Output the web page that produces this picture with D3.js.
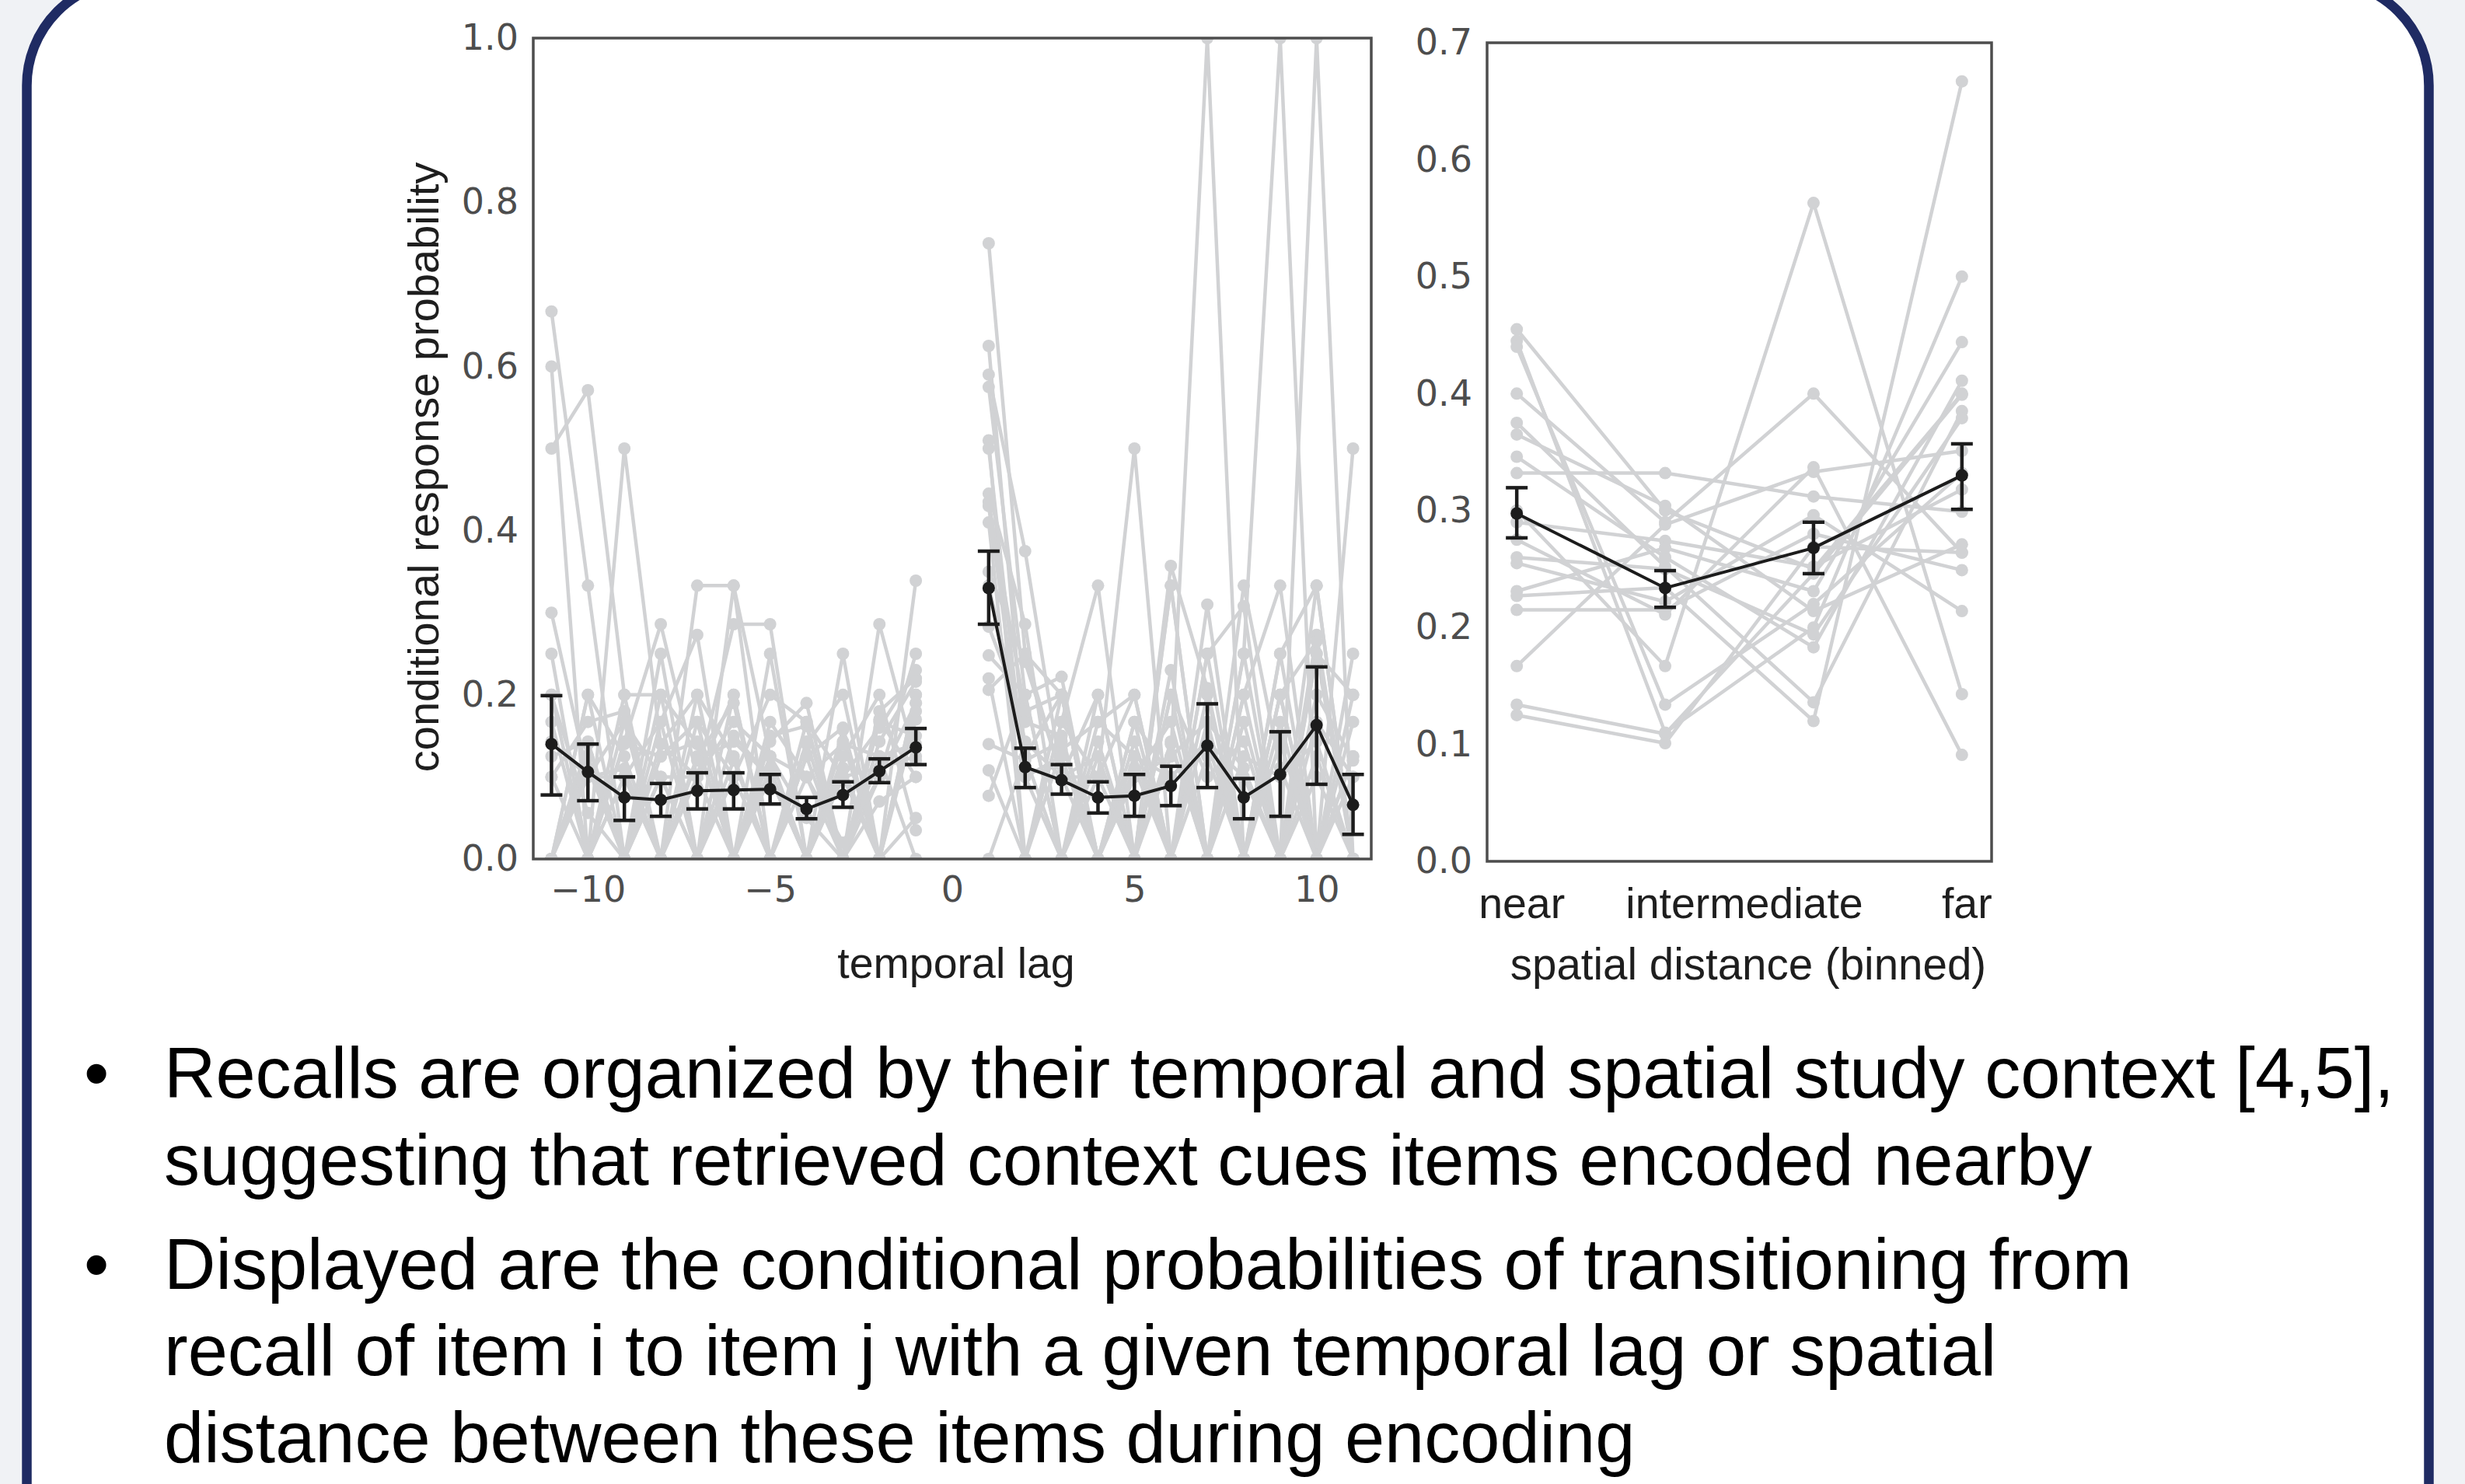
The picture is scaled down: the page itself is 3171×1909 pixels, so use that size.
<!DOCTYPE html>
<html>
<head>
<meta charset="utf-8">
<script src="https://cdn.jsdelivr.net/npm/d3@7"></script>
<style>
  body { margin: 0; background: #f0f2f5; }
  svg { display: block; }
</style>
</head>
<body>
<svg id="chart" width="3171" height="1909"></svg>
<script>
// ---- data ----
var lags = [-11, -10, -9, -8, -7, -6, -5, -4, -3, -2, -1, 1, 2, 3, 4, 5, 6, 7, 8, 9, 10, 11];
var lagMean  = [0.140, 0.106, 0.075, 0.072, 0.083, 0.084, 0.085, 0.061, 0.078, 0.107, 0.136,
                0.330, 0.112, 0.096, 0.075, 0.077, 0.089, 0.138, 0.075, 0.103, 0.163, 0.066];
var lagErrLo = [0.078, 0.071, 0.047, 0.052, 0.061, 0.061, 0.067, 0.049, 0.063, 0.093, 0.115,
                0.286, 0.087, 0.079, 0.056, 0.052, 0.065, 0.087, 0.049, 0.052, 0.091, 0.030];
var lagErrHi = [0.199, 0.140, 0.100, 0.092, 0.105, 0.105, 0.103, 0.075, 0.094, 0.122, 0.159,
                0.375, 0.135, 0.115, 0.094, 0.103, 0.113, 0.189, 0.098, 0.155, 0.234, 0.103];
// one row per subject, same order as lags
var lagSubjects = [
  [0.667, 0.333, 0, 0.25, 0, 0.333, 0, 0.167, 0, 0.1, 0.25,      0.75, 0.25, 0.2, 0, 0.167, 0, 0.25, 0, 0.2, 0, 0.2],
  [0.6, 0, 0.5, 0.14, 0.2, 0, 0.25, 0, 0.143, 0, 0.2,             0.625, 0.125, 0, 0.2, 0, 0.333, 0, 0.2, 0, 0.333, 0],
  [0.5, 0.571, 0.2, 0, 0.333, 0.333, 0.125, 0.1, 0, 0.18, 0.22,   0.59, 0.375, 0.1, 0.1, 0.5, 0, 0, 0.333, 0.111, 0, 0.25],
  [0.167, 0, 0.143, 0.286, 0.1, 0.286, 0.286, 0, 0.25, 0, 0.19,   0.575, 0.2, 0.222, 0, 0, 0.357, 0.208, 0, 0, 0.273, 0],
  [0, 0.2, 0, 0.167, 0.273, 0, 0.143, 0.19, 0, 0.286, 0.12,       0.51, 0, 0.167, 0.333, 0, 0.125, 1.0, 0, 0.25, 0, 0.125],
  [0.1, 0.167, 0.18, 0, 0.125, 0.19, 0, 0.125, 0.16, 0, 0.339,    0.445, 0.286, 0, 0.1, 0.2, 0, 0.25, 0.308, 0, 0.25, 0],
  [0, 0.14, 0, 0.2, 0, 0.15, 0.1, 0, 0.1, 0.16, 0.23,             0.435, 0.18, 0.2, 0, 0, 0.23, 0, 0.25, 1.0, 0, 0.5],
  [0.2, 0, 0.1, 0, 0.167, 0, 0.15, 0.162, 0, 0.07, 0.1,           0.41, 0, 0.133, 0.167, 0.2, 0, 0.31, 0, 0, 1.0, 0],
  [0.143, 0.1, 0.167, 0, 0, 0.2, 0, 0.14, 0.2, 0, 0.05,           0.35, 0.24, 0.1, 0.125, 0, 0.2, 0, 0.2, 0.333, 0, 0.125],
  [0, 0, 0.14, 0.125, 0.143, 0, 0.125, 0, 0, 0.143, 0.216,        0.283, 0.167, 0.15, 0, 0.167, 0.1, 0.143, 0, 0.25, 0.333, 0],
  [0.125, 0.143, 0, 0.1, 0, 0.1, 0.2, 0.167, 0.1, 0, 0.2,         0.248, 0.2, 0, 0.143, 0, 0.333, 0, 0.167, 0, 0.25, 0.2],
  [0, 0.2, 0.125, 0, 0.2, 0.125, 0, 0, 0.125, 0.2, 0.035,         0.22, 0, 0.2, 0, 0.143, 0, 0.2, 0, 0.2, 0.265, 0],
  [0.25, 0, 0.2, 0.2, 0.14, 0, 0.167, 0.1, 0.14, 0.125, 0.14,     0.206, 0.25, 0.1, 0.2, 0, 0.14, 0, 0.25, 0, 0.2, 0.12],
  [0, 0.111, 0, 0.14, 0.1, 0.167, 0.125, 0.05, 0, 0.17, 0.1,      0.14, 0.12, 0.143, 0, 0.1, 0.125, 0.167, 0, 0.2, 0, 0],
  [0.3, 0.1, 0.11, 0, 0.1, 0.2, 0, 0.1, 0.02, 0.1, 0.19,          0.108, 0, 0.167, 0.1, 0, 0.2, 0.1, 0.143, 0, 0.125, 0],
  [0, 0, 0.167, 0.1, 0, 0, 0.1, 0, 0.157, 0, 0.17,                0.077, 0.2, 0, 0.167, 0.125, 0, 0.125, 0, 0.167, 0, 0.167],
  [0.2, 0.056, 0, 0.125, 0.167, 0.1, 0, 0.125, 0, 0.167, 0.15,    0, 0.125, 0.2, 0, 0.1, 0.167, 0, 0.125, 0.1, 0.143, 0],
  [0, 0.1, 0.1, 0, 0.12, 0.143, 0.1, 0, 0.111, 0, 0.18,           0.333, 0.143, 0.1, 0, 0.125, 0.1, 0.143, 0.1, 0, 0.167, 0.1],
  [0.1, 0, 0.1, 0.167, 0, 0.12, 0, 0.143, 0, 0.125, 0,            0.43, 0.1, 0, 0.125, 0, 0.143, 0, 0, 0.143, 0, 0.1],
  [0, 0.125, 0, 0.1, 0.1, 0, 0.11, 0, 0.1, 0.111, 0.125,          0.5, 0.1, 0.125, 0, 0.111, 0, 0.167, 0.111, 0, 0.1, 0]
];

var distBins = [0, 1, 2, 3];
var distTicks = [0, 1.5, 3];
var distTickLabels = ['near', 'intermediate', 'far'];
var distMean  = [0.2975, 0.2337, 0.268, 0.330];
var distErrLo = [0.2766, 0.2172, 0.246, 0.301];
var distErrHi = [0.3195, 0.2486, 0.290, 0.357];
var distSubjects = [
  [0.455, 0.300, 0.250, 0.400],
  [0.445, 0.110, 0.200, 0.500],
  [0.440, 0.134, 0.220, 0.332],
  [0.400, 0.290, 0.400, 0.264],
  [0.375, 0.252, 0.136, 0.385],
  [0.365, 0.304, 0.214, 0.271],
  [0.346, 0.260, 0.183, 0.411],
  [0.332, 0.332, 0.312, 0.299],
  [0.300, 0.167, 0.563, 0.143],
  [0.290, 0.274, 0.252, 0.318],
  [0.275, 0.211, 0.337, 0.091],
  [0.260, 0.250, 0.194, 0.379],
  [0.255, 0.222, 0.296, 0.214],
  [0.231, 0.268, 0.231, 0.444],
  [0.227, 0.234, 0.120, 0.667],
  [0.215, 0.215, 0.280, 0.249],
  [0.167, 0.288, 0.333, 0.351],
  [0.134, 0.109, 0.246, 0.399],
  [0.125, 0.101, 0.269, 0.264]
];

var bullets = [
  ['Recalls are organized by their temporal and spatial study context [4,5],',
   'suggesting that retrieved context cues items encoded nearby'],
  ['Displayed are the conditional probabilities of transitioning from',
   'recall of item i to item j with a given temporal lag or spatial',
   'distance between these items during encoding']
];

// ---- styles ----
var grey = '#d1d2d4';
var dark = '#1c1c1c';
var tickFont = 'DejaVu Sans';
var labelFont = 'Liberation Sans, Arial, sans-serif';

var svg = d3.select('#chart');

// rounded panel
svg.append('rect')
  .attr('x', 34.5).attr('y', -25)
  .attr('width', 3090).attr('height', 2200)
  .attr('rx', 135).attr('ry', 135)
  .attr('fill', '#ffffff')
  .attr('stroke', '#1f2b63')
  .attr('stroke-width', 12.5);

var defs = svg.append('defs');

function drawPanel(cfg) {
  var x = d3.scaleLinear().domain(cfg.xDomain).range([cfg.left, cfg.right]);
  var y = d3.scaleLinear().domain(cfg.yDomain).range([cfg.bottom, cfg.top]);

  defs.append('clipPath').attr('id', cfg.id + '-clip')
    .append('rect')
    .attr('x', cfg.left).attr('y', cfg.top)
    .attr('width', cfg.right - cfg.left).attr('height', cfg.bottom - cfg.top);

  var g = svg.append('g');
  var plot = g.append('g').attr('clip-path', 'url(#' + cfg.id + '-clip)');

  // split a series where it jumps over a gap (lag 0)
  var segments = function(vals) {
    var segs = [[]];
    cfg.xs.forEach(function(xv, i) {
      if (i > 0 && xv - cfg.xs[i - 1] > 1) segs.push([]);
      segs[segs.length - 1].push([xv, vals[i]]);
    });
    return segs;
  };

  var line = d3.line()
    .x(function(d) { return x(d[0]); })
    .y(function(d) { return y(d[1]); });

  // individual subjects
  cfg.subjects.forEach(function(row) {
    segments(row).forEach(function(seg) {
      plot.append('path')
        .attr('d', line(seg))
        .attr('fill', 'none')
        .attr('stroke', grey)
        .attr('stroke-width', 4.5)
        .attr('stroke-linejoin', 'round');
    });
  });
  cfg.subjects.forEach(function(row) {
    plot.selectAll(null)
      .data(row)
      .enter()
      .append('circle')
      .attr('cx', function(d, i) { return x(cfg.xs[i]); })
      .attr('cy', function(d) { return y(d); })
      .attr('r', 8)
      .attr('fill', grey);
  });

  // mean line
  segments(cfg.mean).forEach(function(seg) {
    plot.append('path')
      .attr('d', line(seg))
      .attr('fill', 'none')
      .attr('stroke', dark)
      .attr('stroke-width', 4);
  });

  // error bars
  var cap = 14;
  cfg.xs.forEach(function(xv, i) {
    var cx = x(xv);
    plot.append('line')
      .attr('x1', cx).attr('x2', cx)
      .attr('y1', y(cfg.lo[i])).attr('y2', y(cfg.hi[i]))
      .attr('stroke', dark).attr('stroke-width', 4.5);
    [cfg.lo[i], cfg.hi[i]].forEach(function(v) {
      plot.append('line')
        .attr('x1', cx - cap).attr('x2', cx + cap)
        .attr('y1', y(v)).attr('y2', y(v))
        .attr('stroke', dark).attr('stroke-width', 4.5);
    });
  });

  plot.selectAll(null)
    .data(cfg.mean)
    .enter()
    .append('circle')
    .attr('cx', function(d, i) { return x(cfg.xs[i]); })
    .attr('cy', function(d) { return y(d); })
    .attr('r', 8)
    .attr('fill', dark);

  // axes
  var ya = g.append('g')
    .attr('transform', 'translate(' + cfg.left + ',0)')
    .call(d3.axisLeft(y).tickValues(cfg.yTicks).tickSize(0).tickPadding(19)
      .tickFormat(d3.format('.1f')));
  ya.select('.domain').remove();
  ya.selectAll('text')
    .attr('font-family', tickFont).attr('font-size', 46).attr('fill', '#4d4d4d');

  var xa = g.append('g')
    .attr('transform', 'translate(0,' + cfg.bottom + ')')
    .call(d3.axisBottom(x).tickValues(cfg.xTicks).tickSize(0).tickPadding(cfg.xPad)
      .tickFormat(cfg.xFormat));
  xa.select('.domain').remove();
  xa.selectAll('text')
    .attr('font-family', cfg.xFont).attr('font-size', cfg.xFontSize).attr('fill', cfg.xColor)
    .attr('dx', cfg.xShift || 0);

  // frame
  g.append('rect')
    .attr('x', cfg.left).attr('y', cfg.top)
    .attr('width', cfg.right - cfg.left).attr('height', cfg.bottom - cfg.top)
    .attr('fill', 'none')
    .attr('stroke', '#4d4d4d')
    .attr('stroke-width', 3.5);

  return { x: x, y: y };
}

var left = drawPanel({
  id: 'lag',
  left: 686, right: 1764, top: 49, bottom: 1105,
  xDomain: [-11.5, 11.5], yDomain: [0, 1],
  xs: lags, subjects: lagSubjects, mean: lagMean, lo: lagErrLo, hi: lagErrHi,
  yTicks: [0, 0.2, 0.4, 0.6, 0.8, 1.0],
  xTicks: [-10, -5, 0, 5, 10], xFormat: d3.format('d'),
  xPad: 22, xFont: tickFont, xFontSize: 46, xColor: '#4d4d4d'
});

var right = drawPanel({
  id: 'dist',
  left: 1913, right: 2562, top: 55, bottom: 1108,
  xDomain: [-0.2, 3.2], yDomain: [0, 0.7],
  xs: distBins, subjects: distSubjects, mean: distMean, lo: distErrLo, hi: distErrHi,
  yTicks: [0, 0.1, 0.2, 0.3, 0.4, 0.5, 0.6, 0.7],
  xTicks: distTicks, xFormat: function(d, i) { return distTickLabels[i]; },
  xPad: 34, xFont: labelFont, xFontSize: 55.5, xColor: '#1e1e1e', xShift: 6
});

// axis titles
svg.append('text')
  .attr('transform', 'translate(564,601) rotate(-90)')
  .attr('text-anchor', 'middle')
  .attr('font-family', labelFont).attr('font-size', 56).attr('fill', '#1e1e1e')
  .text('conditional response probability');

svg.append('text')
  .attr('x', left.x(0) + 5).attr('y', 1258)
  .attr('text-anchor', 'middle')
  .attr('font-family', labelFont).attr('font-size', 55.5).attr('fill', '#1e1e1e')
  .text('temporal lag');

svg.append('text')
  .attr('x', right.x(1.56)).attr('y', 1260)
  .attr('text-anchor', 'middle')
  .attr('font-family', labelFont).attr('font-size', 56.5).attr('fill', '#1e1e1e')
  .text('spatial distance (binned)');

// bullet text
var lineH = 111.5, gapH = 22.5, yPos = 1412;
var notes = svg.append('g')
  .attr('font-family', labelFont).attr('font-size', 92).attr('fill', '#000');
bullets.forEach(function(lines, bi) {
  if (bi > 0) yPos += gapH;
  notes.append('text')
    .attr('x', 124).attr('y', yPos)
    .attr('text-anchor', 'middle')
    .text('\u2022');
  lines.forEach(function(t) {
    notes.append('text')
      .attr('x', 211).attr('y', yPos)
      .text(t);
    yPos += lineH;
  });
});
</script>
</body>
</html>
